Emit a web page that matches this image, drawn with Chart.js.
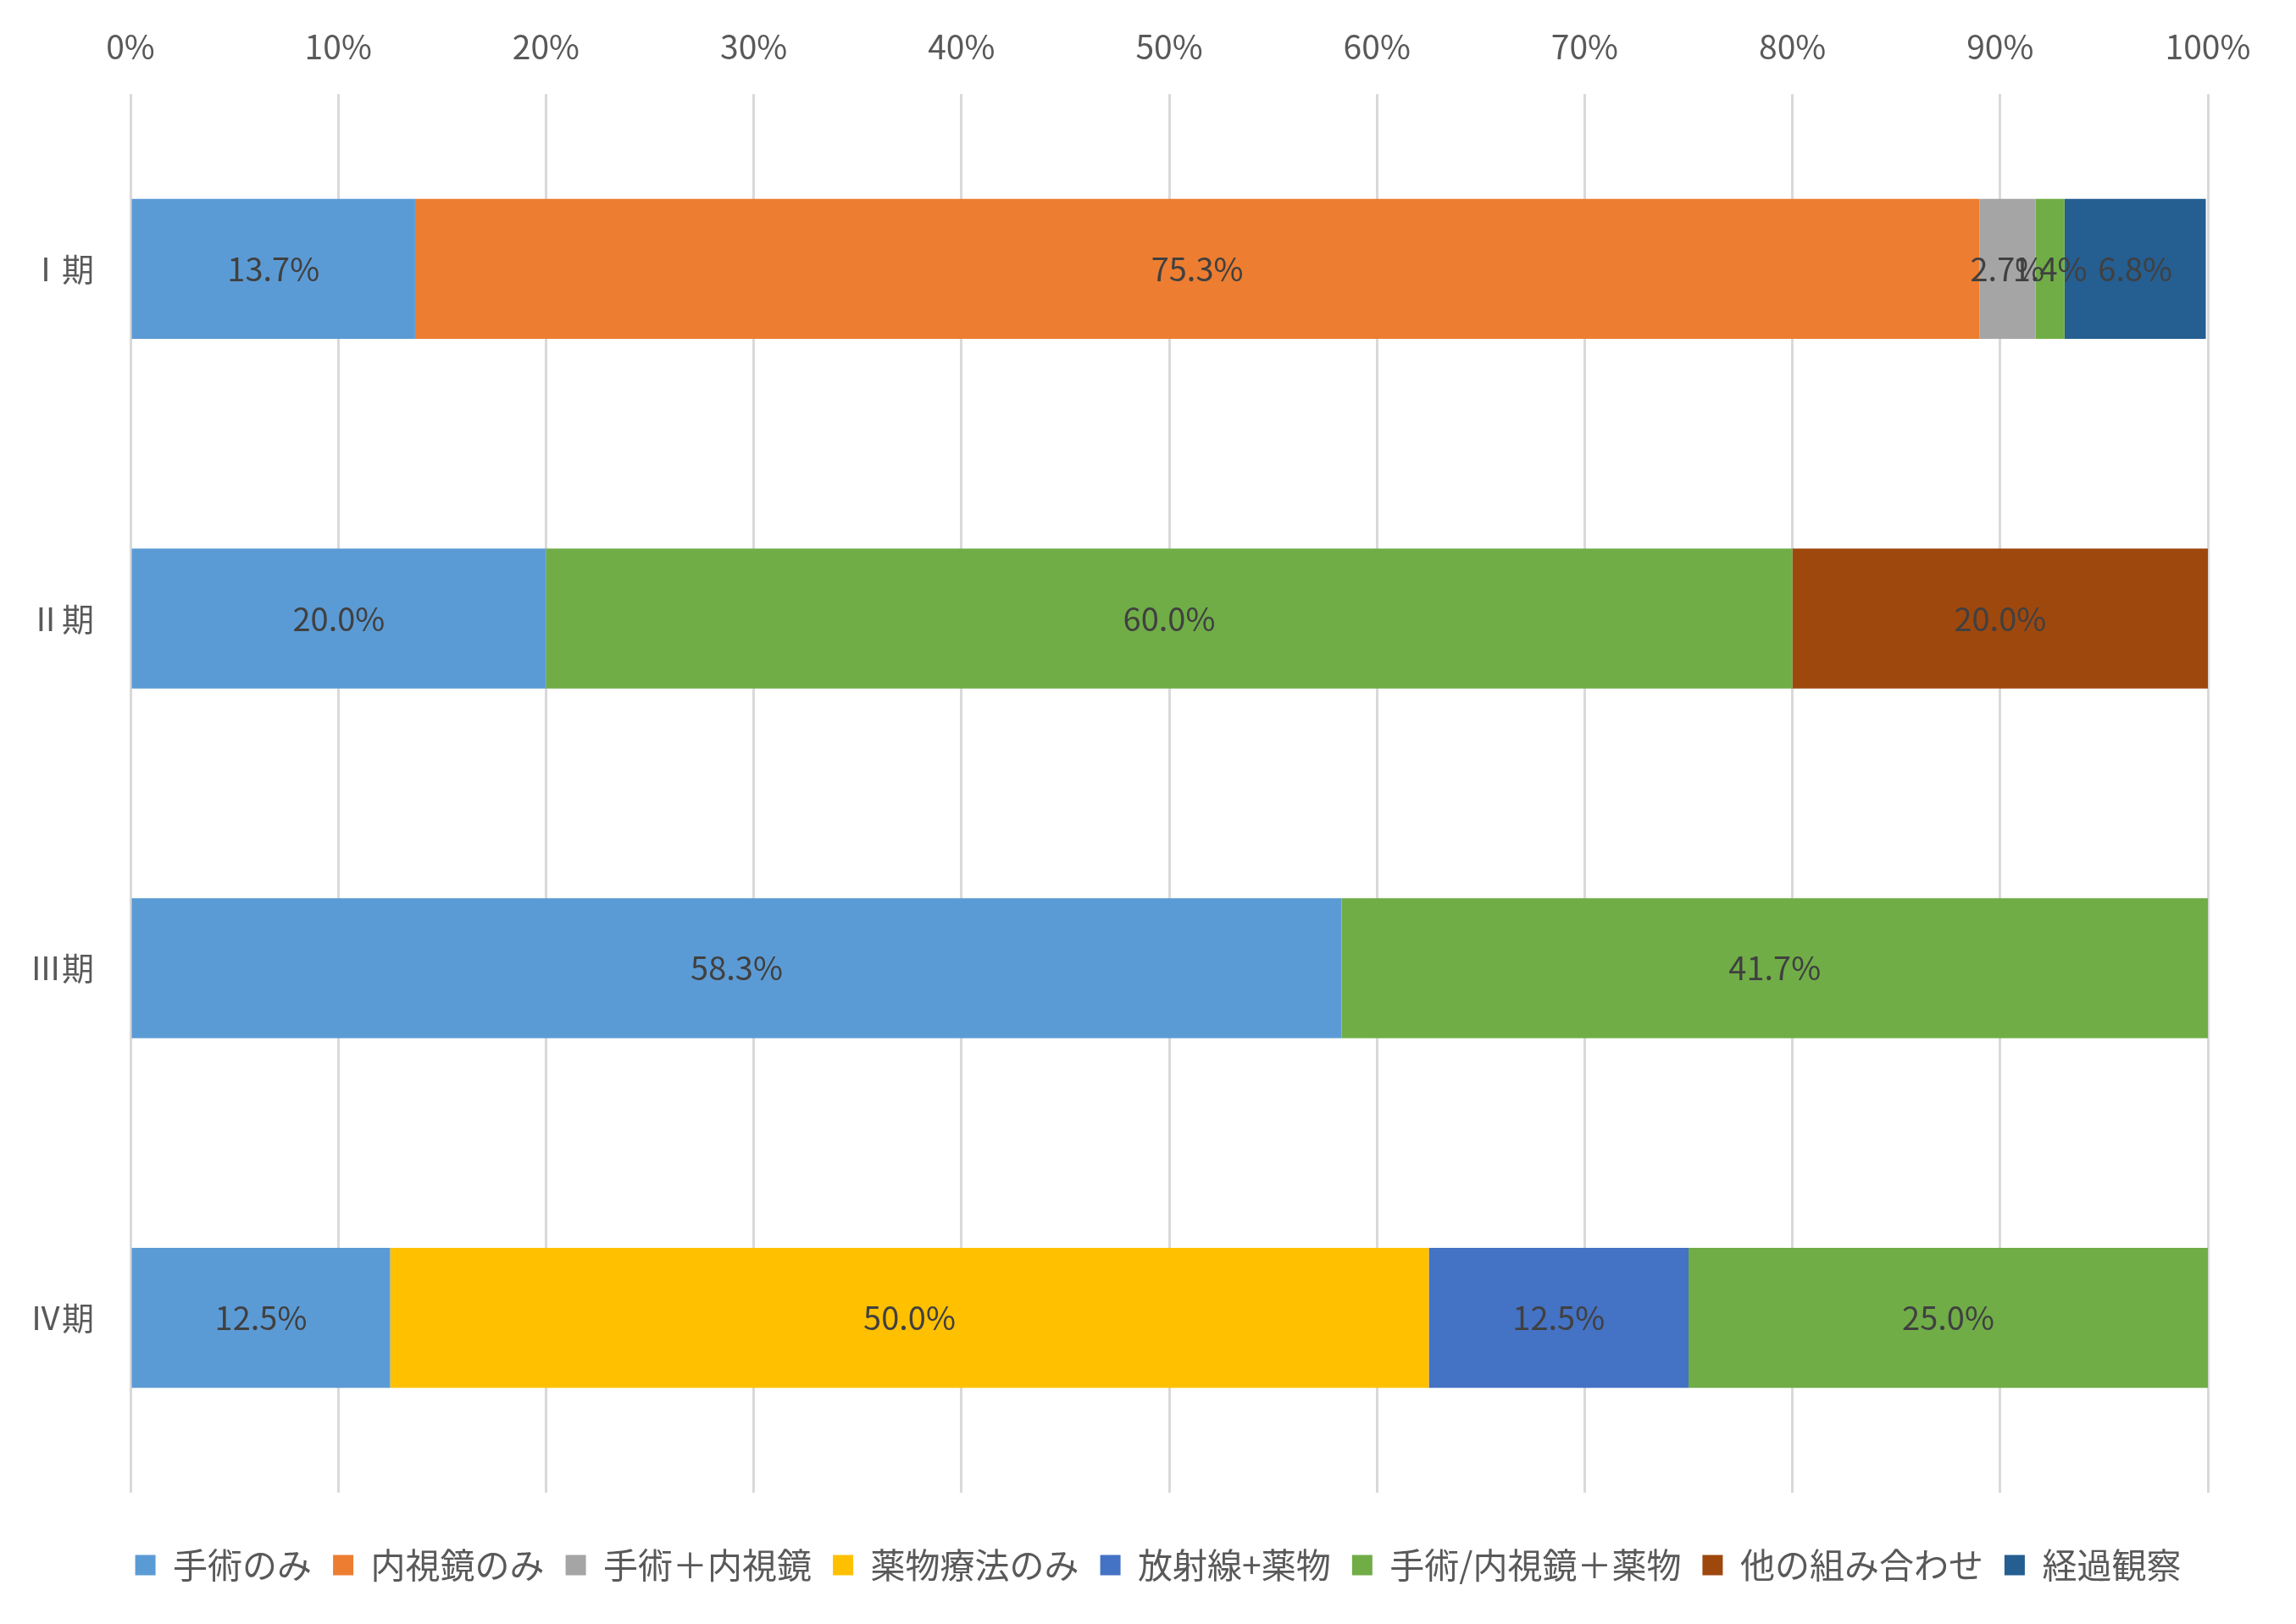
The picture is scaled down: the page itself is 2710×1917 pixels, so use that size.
<!doctype html>
<html lang="ja">
<head>
<meta charset="utf-8">
<title>病期別 治療法の割合</title>
<style>
  body { margin: 0; background: #fff; }
</style>
</head>
<body>
<canvas id="stage" width="2710" height="1917"></canvas>
<script src="https://cdn.jsdelivr.net/npm/chart.js"></script>
<script>
const stages = ['Ⅰ期', 'Ⅱ期', 'Ⅲ期', 'Ⅳ期'];
const treatments = ['手術のみ', '内視鏡のみ', '手術＋内視鏡', '薬物療法のみ', '放射線+薬物', '手術/内視鏡＋薬物', '他の組み合わせ', '経過観察'];
const colors = ['#5B9BD5', '#ED7D31', '#A5A5A5', '#FFC000', '#4472C4', '#70AD47', '#9E480E', '#255E91'];

// percent per stage, one array per treatment
const surgeryOnly = [13.7, 20.0, 58.3, 12.5];
const endoOnly = [75.3, 0, 0, 0];
const surgeryEndo = [2.7, 0, 0, 0];
const drugOnly = [0, 0, 0, 50.0];
const radioDrug = [0, 0, 0, 12.5];
const surgEndoDrug = [1.4, 60.0, 41.7, 25.0];
const otherCombo = [0, 20.0, 0, 0];
const observation = [6.8, 0, 0, 0];

const xTicks = [0, 10, 20, 30, 40, 50, 60, 70, 80, 90, 100];

const series = [surgeryOnly, endoOnly, surgeryEndo, drugOnly, radioDrug, surgEndoDrug, otherCombo, observation];

const fontFamily = '"Noto Sans CJK JP", "Noto Sans", sans-serif';

// write the value in the middle of every non-empty segment
const barLabels = {
  id: 'barLabels',
  afterDatasetsDraw(chart) {
    const ctx = chart.ctx;
    ctx.save();
    ctx.font = '38px ' + fontFamily;
    ctx.fillStyle = '#404040';
    ctx.textAlign = 'center';
    ctx.textBaseline = 'middle';
    chart.data.datasets.forEach((ds, i) => {
      chart.getDatasetMeta(i).data.forEach((bar, j) => {
        const v = ds.data[j];
        if (!v) return;
        const p = bar.getCenterPoint();
        ctx.fillText(v.toFixed(1) + '%', p.x, p.y);
      });
    });
    ctx.restore();
  }
};

// leave a gap between the plot and the legend, nudge legend right
const legendGap = {
  id: 'legendGap',
  beforeInit(chart) {
    const fit = chart.legend.fit;
    chart.legend.fit = function () {
      fit.call(this);
      this.height += 40;
    };
  },
  afterLayout(chart) {
    const lg = chart.legend;
    lg.top += 40;
    lg.bottom += 40;
    lg.left += 64;
    lg.right += 64;
  }
};

Chart.defaults.font.family = fontFamily;
Chart.defaults.color = '#595959';

new Chart(document.getElementById('stage'), {
  type: 'bar',
  data: {
    labels: stages,
    datasets: treatments.map((name, i) => ({
      label: name,
      data: series[i],
      backgroundColor: colors[i],
      borderWidth: 0,
      barPercentage: 0.4,
      categoryPercentage: 1
    }))
  },
  options: {
    indexAxis: 'y',
    responsive: false,
    animation: false,
    devicePixelRatio: 1,
    layout: { padding: { top: 0, left: 0, right: 104, bottom: 39 } },
    scales: {
      x: {
        position: 'top',
        stacked: true,
        min: 0,
        max: 100,
        afterBuildTicks(axis) { axis.ticks = xTicks.map(v => ({ value: v })); },
        ticks: {
          callback: v => v + '%',
          font: { size: 39, lineHeight: 1 },
          padding: 36
        },
        grid: { color: '#D9D9D9', lineWidth: 3, drawTicks: false },
        border: { display: false }
      },
      y: {
        stacked: true,
        ticks: { font: { size: 38 }, padding: 35 },
        grid: { display: false },
        border: { display: false }
      }
    },
    plugins: {
      legend: {
        position: 'bottom',
        labels: {
          boxWidth: 24,
          boxHeight: 24,
          padding: 25,
          font: { size: 41 },
          color: '#595959'
        }
      },
      tooltip: { enabled: false }
    }
  },
  plugins: [barLabels, legendGap]
});
</script>
</body>
</html>
